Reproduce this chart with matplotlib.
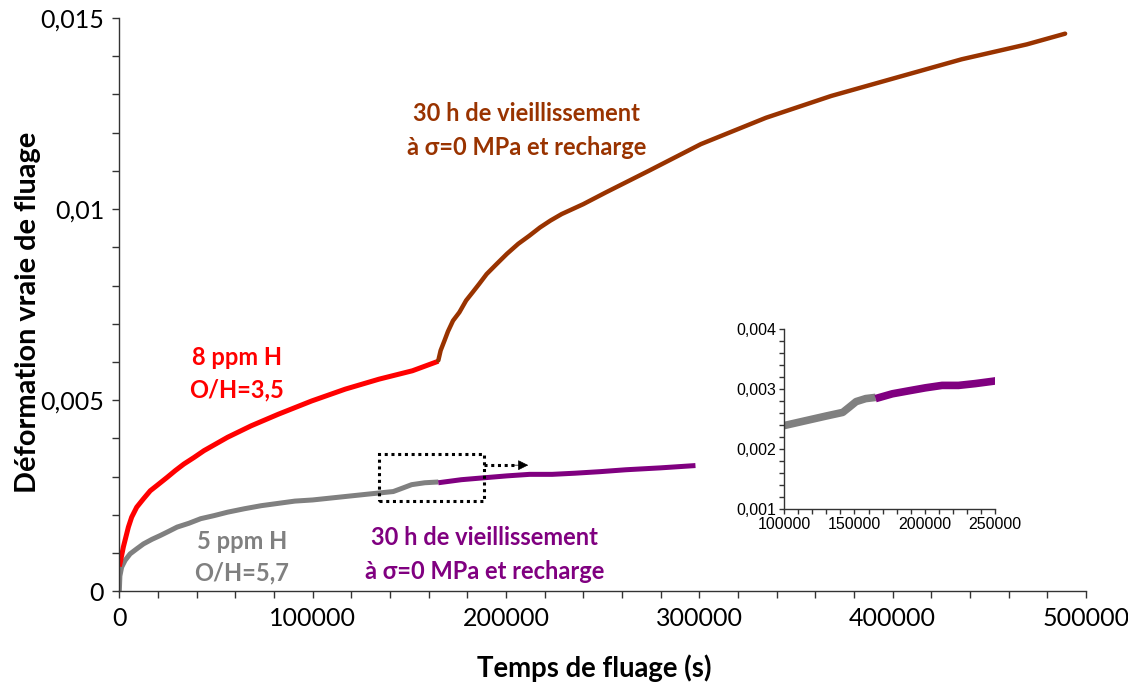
import matplotlib
matplotlib.use("Agg")
import matplotlib.pyplot as plt
from matplotlib.ticker import MultipleLocator, FixedLocator, FixedFormatter
from matplotlib.patches import Rectangle

# ---------------- data ----------------
red_t = [0, 350, 2100, 4700, 6400, 9000, 12500, 16000, 19500, 24700, 29000,
         33400, 38600, 43800, 56000, 68200, 82100, 99500, 116900, 134300,
         151600, 165000]
red_eps = [0.00065, 0.00072, 0.00116, 0.00168, 0.00194, 0.00220, 0.00242,
           0.00263, 0.00277, 0.00298, 0.00316, 0.00333, 0.00350, 0.00368,
           0.00403, 0.00433, 0.00463, 0.00498, 0.00529, 0.00555, 0.00577,
           0.00602]

brown_t = [165000, 166200, 168200, 170000, 172600, 175900, 179400, 182700,
           186100, 190000, 195100, 200500, 206300, 212000, 217600, 223000,
           228800, 240000, 251400, 273800, 300800, 334500, 368200, 401900,
           435700, 469400, 489200]
brown_eps = [0.00604, 0.00630, 0.00656, 0.00680, 0.00708, 0.00730, 0.00761,
             0.00782, 0.00804, 0.00830, 0.00856, 0.00883, 0.00909, 0.00930,
             0.00952, 0.00970, 0.00987, 0.01013, 0.01043, 0.01100, 0.01170,
             0.01239, 0.01296, 0.01344, 0.01392, 0.01431, 0.01459]

gray_t = [0, 300, 1200, 3000, 5600, 9000, 12500, 16900, 21200, 25600, 29900,
          36000, 42100, 49000, 56000, 64700, 73400, 90800, 100000, 115000,
          130000, 141700, 146500, 151200, 158000, 165000]
gray_eps = [0.0, 0.00040, 0.00063, 0.00081, 0.00098, 0.00111, 0.00124,
            0.00136, 0.00146, 0.00157, 0.00168, 0.00178, 0.00190, 0.00198,
            0.00207, 0.00216, 0.00224, 0.00236, 0.00239, 0.00247, 0.00255,
            0.00261, 0.00270, 0.00279, 0.00284, 0.00286]

purple_t = [165000, 176900, 188600, 200500, 212200, 223900, 235700, 248600,
            262000, 280000, 298000]
purple_eps = [0.00284, 0.00292, 0.00297, 0.00302, 0.00306, 0.00306, 0.00309,
              0.00313, 0.00318, 0.00323, 0.00329]

x_ticks = [0, 100000, 200000, 300000, 400000, 500000]
x_tick_labels = ["0", "100000", "200000", "300000", "400000", "500000"]
y_ticks = [0, 0.005, 0.01, 0.015]
y_tick_labels = ["0", "0,005", "0,01", "0,015"]

inset_x_ticks = [100000, 150000, 200000, 250000]
inset_x_tick_labels = ["100000", "150000", "200000", "250000"]
inset_y_ticks = [0.001, 0.002, 0.003, 0.004]
inset_y_tick_labels = ["0,001", "0,002", "0,003", "0,004"]

label_red = ["8 ppm H", "O/H=3,5"]
label_gray = ["5 ppm H", "O/H=5,7"]
label_age = ["30 h de vieillissement", "à σ=0 MPa et recharge"]

RED = "#FF0000"
BROWN = "#993300"
GRAY = "#808080"
PURPLE = "#800080"

# ---------------- figure ----------------
W, H = 1128, 687
fig = plt.figure(figsize=(W / 100, H / 100), dpi=100)
fig.patch.set_facecolor("white")

L, R, T, B = 119.3, 1086.0, 18.0, 591.3
ax = fig.add_axes([L / W, 1 - B / H, (R - L) / W, (B - T) / H])

lw_main = 3.6
ax.plot(gray_t, gray_eps, color=GRAY, lw=lw_main, solid_capstyle="butt",
        solid_joinstyle="round")
ax.plot(purple_t, purple_eps, color=PURPLE, lw=lw_main, solid_capstyle="butt",
        solid_joinstyle="round")
ax.plot(red_t, red_eps, color=RED, lw=lw_main, solid_capstyle="butt",
        solid_joinstyle="round")
ax.plot(brown_t, brown_eps, color=BROWN, lw=3.2, solid_capstyle="round",
        solid_joinstyle="round")

ax.set_xlim(0, 500000)
ax.set_ylim(0, 0.015)

for s in ["top", "right"]:
    ax.spines[s].set_visible(False)
for s in ["left", "bottom"]:
    ax.spines[s].set_color("#333333")
    ax.spines[s].set_linewidth(1.0)

ax.xaxis.set_major_locator(FixedLocator(x_ticks))
ax.xaxis.set_major_formatter(FixedFormatter(x_tick_labels))
ax.xaxis.set_minor_locator(MultipleLocator(20000))
ax.yaxis.set_major_locator(FixedLocator(y_ticks))
ax.yaxis.set_major_formatter(FixedFormatter(y_tick_labels))
ax.yaxis.set_minor_locator(MultipleLocator(0.001))

ax.tick_params(which="both", direction="out", color="#333333", width=1.0)
ax.tick_params(which="major", length=5)
ax.tick_params(which="minor", length=5)
ax.tick_params(axis="both", which="major", labelsize=18, pad=6, labelcolor="black")
for lab in ax.get_xticklabels() + ax.get_yticklabels():
    lab.set_fontfamily("Lato")

ax.set_xlabel("Temps de fluage (s)", fontsize=19.8, fontweight="bold",
              family="Lato", va="center")
ax.xaxis.set_label_coords((594 - L) / (R - L), (B - 668) / (B - T))
ax.set_ylabel("Déformation vraie de fluage", fontsize=20.8, fontweight="bold",
              family="Lato", va="center")
ax.yaxis.set_label_coords((28 - L) / (R - L), (B - 312) / (B - T))

# annotations
tkw = dict(fontsize=17, fontweight="bold", family="Lato", ha="center", va="center")
ax.text(60900, 0.00612, label_red[0], color=RED, **tkw)
ax.text(60900, 0.00528, label_red[1], color=RED, **tkw)
ax.text(63400, 0.00129, label_gray[0], color=GRAY, **tkw)
ax.text(63400, 0.00048, label_gray[1], color=GRAY, **tkw)
ax.text(189100, 0.00142, label_age[0], color=PURPLE, **tkw)
ax.text(189100, 0.00053, label_age[1], color=PURPLE, **tkw)
ax.text(210800, 0.01251, label_age[0], color=BROWN, **tkw)
ax.text(210800, 0.01160, label_age[1], color=BROWN, **tkw)

# dotted zoom box and arrow
ax.add_patch(Rectangle((134100, 0.00236), 188700 - 134100, 0.00358 - 0.00236,
                       fill=False, ls=(0, (1, 1.2)), lw=2.2, ec="black", zorder=5))
ax.plot([188700, 205000], [0.0033, 0.0033], color="black", lw=2.2,
        ls=(0, (1, 1.2)), zorder=5)
ax.annotate("", xy=(211500, 0.0033), xytext=(203000, 0.0033),
            arrowprops=dict(arrowstyle="-|>", color="black", lw=0.5,
                            mutation_scale=16, shrinkA=0, shrinkB=0), zorder=5)

# ---------------- inset ----------------
iL, iR, iT, iB = 784.0, 995.3, 329.0, 509.0
axi = fig.add_axes([iL / W, 1 - iB / H, (iR - iL) / W, (iB - iT) / H])
axi.plot(gray_t, gray_eps, color=GRAY, lw=5.5, solid_capstyle="butt")
axi.plot(purple_t, purple_eps, color=PURPLE, lw=5.5, solid_capstyle="butt")
axi.set_xlim(100000, 250000)
axi.set_ylim(0.001, 0.004)
axi.patch.set_alpha(0)
for s in ["top", "right"]:
    axi.spines[s].set_visible(False)
for s in ["left", "bottom"]:
    axi.spines[s].set_color("#333333")
    axi.spines[s].set_linewidth(1.0)
axi.xaxis.set_major_locator(FixedLocator(inset_x_ticks))
axi.xaxis.set_major_formatter(FixedFormatter(inset_x_tick_labels))
axi.xaxis.set_minor_locator(MultipleLocator(10000))
axi.yaxis.set_major_locator(FixedLocator(inset_y_ticks))
axi.yaxis.set_major_formatter(FixedFormatter(inset_y_tick_labels))
axi.yaxis.set_minor_locator(MultipleLocator(0.0002))
axi.tick_params(which="both", direction="out", color="#333333", width=1.0, length=3.5)
axi.tick_params(axis="both", which="major", labelsize=11.5, pad=2, labelcolor="black")
for lab in axi.get_xticklabels() + axi.get_yticklabels():
    lab.set_fontfamily("Liberation Sans")

fig.savefig("out.png", dpi=100, facecolor="white")
